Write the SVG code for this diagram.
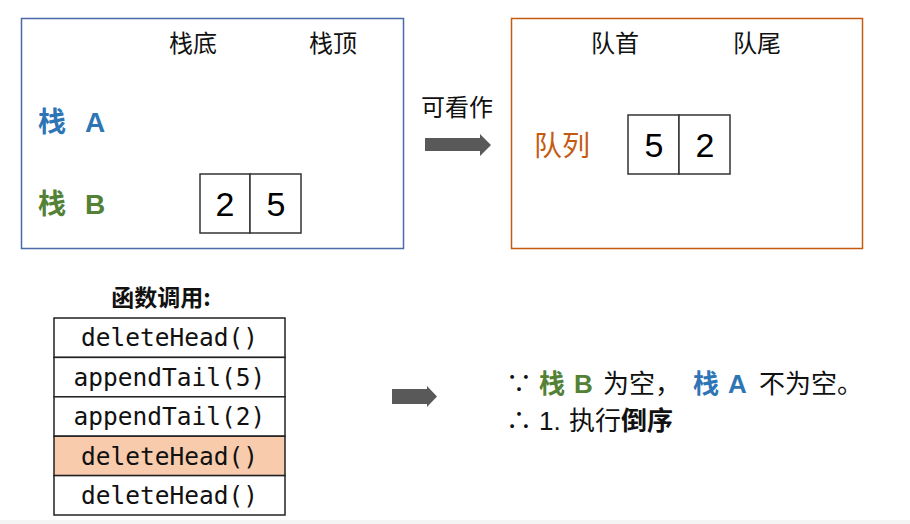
<svg xmlns="http://www.w3.org/2000/svg" width="910" height="524" viewBox="0 0 910 524">
<style>
.cjk{font-family:"Noto Sans CJK SC","Liberation Sans",sans-serif;}
.lbl{font-size:24px;fill:#111;text-anchor:middle;}
.num{font-family:"Liberation Sans","Noto Sans",sans-serif;font-size:34px;fill:#000;text-anchor:middle;}
.cell{fill:#fff;stroke:#333;stroke-width:1.5;}
.mono{font-family:"DejaVu Sans Mono",monospace;font-size:24.5px;fill:#111;text-anchor:middle;}
.row{stroke:#222;stroke-width:1.5;}
.big{font-size:28px;font-weight:bold;}
.lat{font-family:"Liberation Sans","Noto Sans",sans-serif;}
.arrow{fill:#595959;}
.txt{font-size:26px;fill:#111;}
</style>
<rect x="0" y="0" width="910" height="524" fill="#fff"/>
<rect x="0" y="520" width="910" height="4" fill="#f4f4f4"/>

<g id="stackBox">
<rect x="21.5" y="18.5" width="382" height="230" fill="none" stroke="#4a6aa8" stroke-width="1.5"/>
<text class="cjk lbl" x="193" y="52">栈底</text>
<text class="cjk lbl" x="333" y="52">栈顶</text>
<text class="cjk big" x="38" y="132" fill="#2e75b6">栈<tspan class="lat" x="85">A</tspan></text>
<text class="cjk big" x="38" y="214" fill="#538135">栈<tspan class="lat" x="85">B</tspan></text>
</g>

<g id="stackB">
<rect class="cell" x="200" y="174" width="50" height="59"/>
<rect class="cell" x="250" y="174" width="51" height="59"/>
<text class="num" x="225" y="216">2</text>
<text class="num" x="276" y="216">5</text>
</g>

<g id="queueBox">
<rect x="511.5" y="18.5" width="351" height="230" fill="none" stroke="#c55a11" stroke-width="1.5"/>
<text class="cjk lbl" x="615" y="52">队首</text>
<text class="cjk lbl" x="757" y="52">队尾</text>
<text class="cjk" x="534" y="156" font-size="28" fill="#c55a11">队列</text>
</g>

<g id="queue">
<rect class="cell" x="628" y="115" width="51" height="59"/>
<rect class="cell" x="679" y="115" width="51" height="59"/>
<text class="num" x="654" y="157">5</text>
<text class="num" x="705" y="157">2</text>
</g>

<g id="label">
<text class="cjk" x="457" y="116" font-size="24" fill="#111" text-anchor="middle">可看作</text>
</g>

<g id="calls">
<text class="cjk" x="161" y="306" font-size="23" font-weight="bold" fill="#111" text-anchor="middle">函数调用:</text>
<rect class="row" x="54" y="318" width="231" height="39.4" fill="#fff"/>
<rect class="row" x="54" y="357.4" width="231" height="39.4" fill="#fff"/>
<rect class="row" x="54" y="396.8" width="231" height="39.4" fill="#fff"/>
<rect class="row" x="54" y="436.2" width="231" height="39.4" fill="#f8cbad"/>
<rect class="row" x="54" y="475.6" width="231" height="39.4" fill="#fff"/>
<text class="mono" x="169.5" y="346">deleteHead()</text>
<text class="mono" x="169.5" y="385.5">appendTail(5)</text>
<text class="mono" x="169.5" y="425">appendTail(2)</text>
<text class="mono" x="169.5" y="464.5">deleteHead()</text>
<text class="mono" x="169.5" y="504">deleteHead()</text>
</g>

<g id="connectors">
<polygon class="arrow" points="425,138 480,138 480,134 491,145 480,156 480,151 425,151"/>
<polygon class="arrow" points="392,389 427,389 427,386 437,396.5 427,407 427,404 392,404"/>
</g>

<g id="conclusion">
<text class="cjk txt" y="393"><tspan x="506">∵</tspan><tspan x="539" fill="#538135" font-weight="bold">栈</tspan><tspan class="lat" x="574" fill="#538135" font-weight="bold">B</tspan><tspan x="603">为空，</tspan><tspan x="693" fill="#2e75b6" font-weight="bold">栈</tspan><tspan class="lat" x="728" fill="#2e75b6" font-weight="bold">A</tspan><tspan x="759">不为空。</tspan></text>
<text class="cjk txt" y="430"><tspan x="506">∴</tspan><tspan class="lat" x="539">1.</tspan><tspan x="569">执行</tspan><tspan font-weight="bold">倒序</tspan></text>
</g>
</svg>
